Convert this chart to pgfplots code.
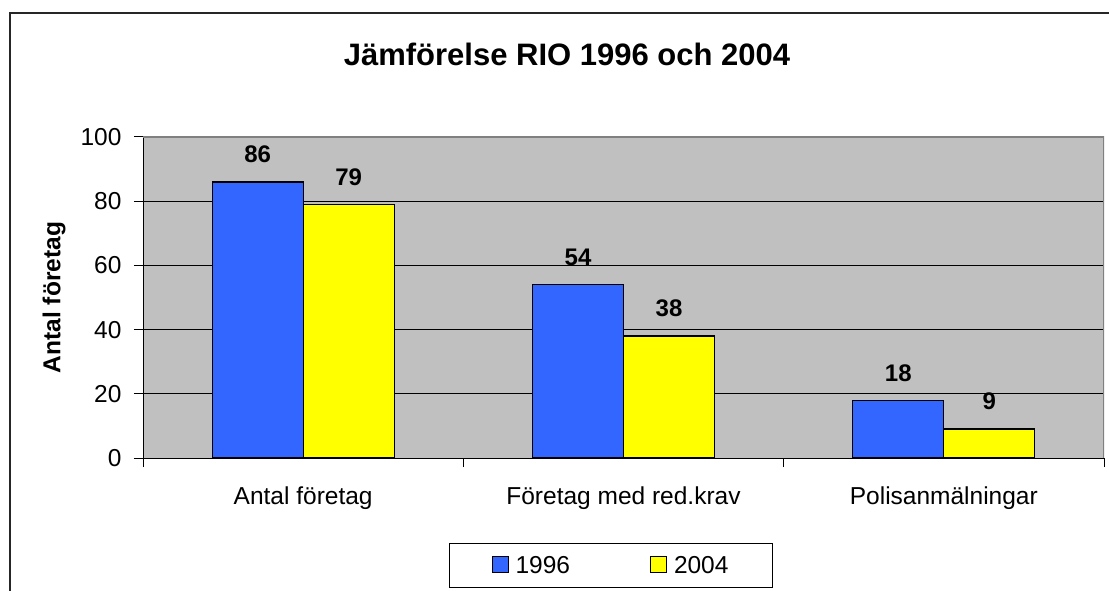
\documentclass[border=0pt]{standalone}
\usepackage{pgfplots}
\pgfplotsset{compat=1.18}
\usepackage{fontspec}
\setmainfont{Liberation Sans}
\definecolor{barblue}{HTML}{3366FF}
\definecolor{baryellow}{HTML}{FFFF00}
\definecolor{plotgray}{HTML}{C0C0C0}
\definecolor{bordergray}{HTML}{808080}
\newcommand{\lblfont}{\fontsize{24.5bp}{29bp}\selectfont}
\begin{document}
\begin{tikzpicture}
\path[use as bounding box] (0bp,0bp) rectangle (1109bp,591bp);
\draw[line width=1.2bp, black!85] (10bp,-5bp) -- (10bp,578bp) -- (1115bp,578bp);
\node[font=\fontsize{31bp}{36bp}\selectfont\bfseries] at (567bp,537bp) {Jämförelse RIO 1996 och 2004};
\begin{axis}[
    at={(143bp,133bp)}, anchor=south west,
    width=961bp, height=321bp, scale only axis,
    xmin=-0.5, xmax=2.5, ymin=0, ymax=100,
    ybar=0pt, bar width=91bp,
    axis background/.style={fill=plotgray},
    axis x line*=bottom, axis y line*=left,
    axis line style={black, line width=1bp},
    xtick={-0.5,0.5,1.5,2.5},
    x tick label as interval,
    xticklabels={Antal företag, Företag med red.krav, Polisanmälningar},
    ytick={0,20,...,100},
    ymajorgrids, grid style={black, line width=1bp},
    tick align=outside, major tick length=9bp,
    tick style={black, line width=1bp},
    tick label style={font=\lblfont},
    /pgf/number format/assume math mode=true,
    xticklabel style={yshift=-16bp},
    yticklabel style={xshift=-9bp},
    ylabel={Antal företag},
    every axis y label/.style={at={(rel axis cs:0,0.5)}, xshift=-89bp, rotate=90, anchor=center, font=\lblfont\bfseries},
    nodes near coords,
    nodes near coords style={font=\fontsize{24bp}{28bp}\selectfont\bfseries, yshift=15bp},
    legend columns=2,
    legend style={at={(0.487,-0.335)}, anchor=center, draw=black, line width=1bp,
        font=\lblfont, inner xsep=42bp, inner ysep=11bp,
        /tikz/every odd column/.append style={column sep=5bp},
        /tikz/every even column/.append style={column sep=78bp}},
]
\addplot[fill=barblue, draw=black, line width=1.3bp,
    legend image code/.code={\draw[fill=barblue, draw=black, line width=1bp] (0bp,-7bp) rectangle (16bp,9bp);}]
    coordinates {(0,86) (1,54) (2,18)};
\addplot[fill=baryellow, draw=black, line width=1.3bp,
    legend image code/.code={\draw[fill=baryellow, draw=black, line width=1bp] (0bp,-7bp) rectangle (16bp,9bp);}]
    coordinates {(0,79) (1,38) (2,9)};
\legend{1996,2004}
\draw[bordergray, line width=1.5bp] (rel axis cs:0,1) -- (rel axis cs:1,1) -- (rel axis cs:1,0);
\end{axis}
\end{tikzpicture}
\end{document}
